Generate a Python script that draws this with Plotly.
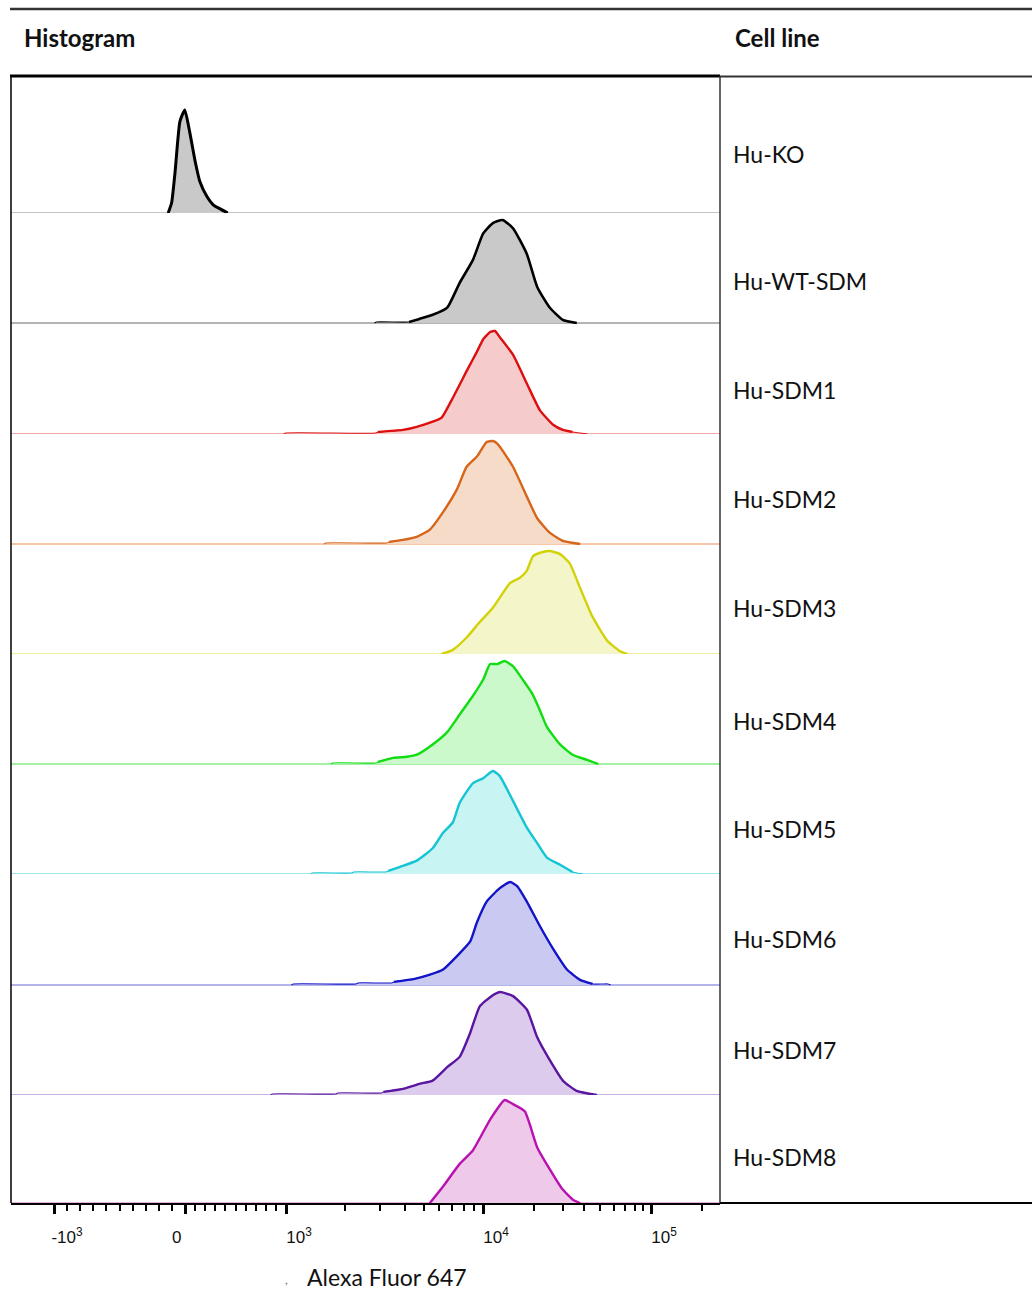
import numpy as np
import plotly.graph_objects as go

# ---------------------------------------------------------------------------
# Data: histograms binned on the 0-1024 biexponential display channel,
# counts normalised to mode (% of max)
# ---------------------------------------------------------------------------
cell_lines = ["Hu-KO", "Hu-WT-SDM", "Hu-SDM1", "Hu-SDM2", "Hu-SDM3",
              "Hu-SDM4", "Hu-SDM5", "Hu-SDM6", "Hu-SDM7", "Hu-SDM8"]

ko_ch = [227, 232, 237, 244, 251, 258, 266, 273, 283, 292, 302, 313]
ko_pct = [0, 10, 40, 89, 100, 79, 50, 30, 16, 8, 4, 0]

wt_ch = [525, 528, 575, 590, 609, 630, 648, 667, 682, 696, 710, 725, 745, 760, 778, 797, 817]
wt_pct = [0, 1, 1, 4, 8, 15, 39, 61, 87, 97, 100, 92, 67, 35, 15, 3, 0]

sdm1_ch = [394, 397, 527, 530, 566, 586, 609, 622, 638, 658, 673, 682, 692, 699, 706,
           725, 745, 764, 783, 797, 811, 833]
sdm1_pct = [0, 1, 1, 2, 4, 7, 12, 16, 35, 61, 80, 92, 99, 100, 94, 77, 49, 23, 9, 4, 2, 0]

sdm2_ch = [452, 455, 543, 546, 566, 586, 605, 624, 644, 658, 673, 687, 696, 703, 725,
           745, 760, 778, 797, 822]
sdm2_pct = [0, 1, 1, 2, 4, 7, 14, 31, 53, 75, 85, 99, 100, 97, 75, 46, 25, 11, 3, 0]

sdm3_ch = [622, 638, 658, 677, 696, 721, 735, 745, 754, 768, 778, 793, 807, 822, 840,
           861, 879, 890]
sdm3_pct = [0, 4, 16, 31, 45, 69, 74, 81, 95, 99, 100, 97, 88, 64, 36, 13, 3, 0]

sdm4_ch = [462, 465, 527, 530, 552, 572, 586, 609, 630, 648, 667, 682, 692, 702, 713,
           725, 739, 753, 764, 774, 793, 811, 832, 848]
sdm4_pct = [0, 1, 1, 2, 6, 7, 9, 19, 31, 48, 66, 82, 97, 97, 100, 95, 82, 68, 52, 36, 19,
            9, 4, 0]

sdm5_ch = [433, 435, 492, 495, 541, 545, 562, 586, 609, 624, 638, 648, 667, 682, 696,
           706, 725, 745, 760, 774, 793, 811, 826]
sdm5_pct = [0, 1, 1, 2, 2, 3, 7, 13, 25, 40, 50, 69, 88, 93, 100, 95, 71, 45, 30, 16, 9, 2, 0]

sdm6_ch = [405, 408, 498, 501, 550, 553, 583, 605, 624, 644, 663, 673, 687, 706, 721,
           731, 745, 764, 783, 803, 822, 840, 855, 862, 866]
sdm6_pct = [0, 1, 1, 2, 2, 3, 6, 10, 15, 28, 42, 61, 81, 94, 100, 96, 81, 57, 35, 15, 5,
            1, 1, 1, 0]

sdm7_ch = [375, 378, 469, 472, 535, 538, 566, 591, 609, 630, 648, 663, 677, 692, 706,
           725, 745, 760, 778, 797, 817, 846]
sdm7_pct = [0, 1, 1, 2, 2, 3, 6, 11, 14, 27, 37, 60, 86, 95, 100, 96, 83, 56, 34, 14, 4, 0]

sdm8_ch = [605, 624, 648, 667, 692, 713, 725, 742, 760, 778, 797, 812, 822]
sdm8_pct = [0, 16, 38, 51, 81, 100, 96, 89, 54, 33, 13, 3, 0]

hist_ch = [ko_ch, wt_ch, sdm1_ch, sdm2_ch, sdm3_ch, sdm4_ch, sdm5_ch, sdm6_ch, sdm7_ch, sdm8_ch]
hist_pct = [ko_pct, wt_pct, sdm1_pct, sdm2_pct, sdm3_pct, sdm4_pct, sdm5_pct, sdm6_pct,
            sdm7_pct, sdm8_pct]

# Axis tick values (fluorescence intensity)
major_ticks = [-1e3, 0, 1e3, 1e4, 1e5]
major_labels = ["-10<sup>3</sup>", "0" + "\u00a0" * 9,
                "10<sup>3</sup>", "10<sup>4</sup>", "10<sup>5</sup>"]
minor_ticks = ([-k * 100 for k in range(1, 10)] + [k * 100 for k in range(1, 10)]
               + [k * 1e3 for k in range(2, 10)] + [k * 1e4 for k in range(2, 10)] + [2e5])

# ---------------------------------------------------------------------------
# Styling
# ---------------------------------------------------------------------------
line_colors = ["#000000", "#000000", "#dc1010", "#d6661c", "#d2d20a", "#12dc12",
               "#16c4d4", "#1414c8", "#5a16a0", "#b812b0"]
fill_colors = ["#c9c9c9", "#c9c9c9", "#f5cbcb", "#f6dcc8", "#f4f5c8", "#ccf9cc",
               "#c9f4f4", "#c9c9f2", "#dccbec", "#efc9ea"]
base_colors = ["#c4c4c4", "#b4b4b4", "#f2a8a8", "#f4c8a8", "#eeee9c", "#a4f0a4",
               "#a0e8f0", "#b2b2ec", "#c8b0e0", "#e6b0e2"]
line_widths = [3, 2.6, 2.4, 2.4, 2.4, 2.4, 2.4, 2.4, 2.4, 2.4]

W, H = 1032, 1290
plot_left, plot_right = 11, 720
row_tops = [76, 213, 323, 434, 544, 654, 764, 874, 985, 1095]
row_bases = [213, 323, 434, 544, 654, 764, 874, 985, 1095, 1203]
label_y = [154, 281, 390, 499, 608, 721, 829, 939, 1050, 1157]
px_per_pct = 1.03
CH_MAX = 1024


def to_channel(v):
    """Biexponential display transform: linear around zero, log above 10^3."""
    lin_v = [-1e3, 0.0, 1e3]
    lin_c = [62.1, 251.3, 397.2]
    if v <= 1e3:
        return float(np.interp(v, lin_v, lin_c))
    dec = [3.0, 4.0, 5.0, 6.0]
    dec_c = [397.2, 681.7, 924.4, 1167.1]
    return float(np.interp(np.log10(v), dec, dec_c))


def fx(px):
    return px / W


def fy(py):
    return 1 - py / H


fig = go.Figure()

for i, name in enumerate(cell_lines):
    yname = "y" if i == 0 else f"y{i + 1}"
    ch, pct = hist_ch[i], hist_pct[i]
    # zero line across the whole channel range
    fig.add_trace(go.Scatter(
        x=[0, CH_MAX], y=[0, 0], mode="lines", xaxis="x", yaxis=yname,
        line=dict(color=base_colors[i], width=2), hoverinfo="skip", showlegend=False))
    # filled histogram with a fine outline (covers the sparse tails)
    fig.add_trace(go.Scatter(
        x=ch, y=pct, mode="lines", xaxis="x", yaxis=yname,
        fill="tozeroy", fillcolor=fill_colors[i],
        line=dict(color=line_colors[i], width=1.1, shape="spline", smoothing=0.5),
        name=name, showlegend=False))
    # heavier outline over the populated part of the distribution
    first = max(0, next(k for k, p in enumerate(pct) if p >= 4) - 1)
    last = min(len(pct) - 1, max(k for k, p in enumerate(pct) if p >= 3) + 1)
    fig.add_trace(go.Scatter(
        x=ch[first:last + 1], y=pct[first:last + 1], mode="lines", xaxis="x", yaxis=yname,
        line=dict(color=line_colors[i], width=line_widths[i], shape="spline", smoothing=0.5),
        hoverinfo="skip", showlegend=False))

layout_axes = {}
for i in range(len(cell_lines)):
    key = "yaxis" if i == 0 else f"yaxis{i + 1}"
    pad = 1.5 if i < len(cell_lines) - 1 else 0.0
    top_px, base_px = row_tops[i], row_bases[i]
    layout_axes[key] = dict(
        domain=[fy(base_px + pad), fy(top_px)],
        range=[-pad / px_per_pct, (base_px - top_px) / px_per_pct],
        visible=False, anchor="x", fixedrange=True)

fig.update_layout(**layout_axes)

fig.update_layout(
    width=W, height=H,
    margin=dict(l=0, r=0, t=0, b=0),
    paper_bgcolor="white", plot_bgcolor="white",
    font=dict(family="Lato, 'Open Sans', sans-serif", color="#111111"),
    xaxis=dict(
        domain=[fx(plot_left), fx(plot_right)],
        range=[0, CH_MAX], anchor="y10",
        showgrid=False, zeroline=False,
        showline=True, linecolor="#000000", linewidth=2,
        ticks="outside", ticklen=9, tickwidth=3, tickcolor="#000000",
        tickvals=[to_channel(v) for v in major_ticks],
        ticktext=major_labels,
        ticklabelshift=13, ticklabelstandoff=9,
        tickfont=dict(family="'Liberation Sans Narrow', 'Liberation Sans', Arial",
                      size=17, color="#111111"),
        minor=dict(tickvals=[to_channel(v) for v in minor_ticks], ticks="outside",
                   ticklen=6, tickwidth=2, tickcolor="#000000", showgrid=False),
        fixedrange=True),
)

# Table rules and plot frame
shapes = [
    dict(type="line", xref="paper", yref="paper", x0=fx(10), x1=fx(W), y0=fy(9), y1=fy(9),
         line=dict(color="#333333", width=2.5)),
    dict(type="line", xref="paper", yref="paper", x0=fx(10), x1=fx(plot_right),
         y0=fy(76), y1=fy(76), line=dict(color="#000000", width=3)),
    dict(type="line", xref="paper", yref="paper", x0=fx(plot_right), x1=fx(W),
         y0=fy(76.5), y1=fy(76.5), line=dict(color="#333333", width=2)),
    dict(type="line", xref="paper", yref="paper", x0=fx(plot_left), x1=fx(plot_left),
         y0=fy(76), y1=fy(1203), line=dict(color="#000000", width=1.5)),
    dict(type="line", xref="paper", yref="paper", x0=fx(plot_right), x1=fx(plot_right),
         y0=fy(76), y1=fy(1203), line=dict(color="#333333", width=1.5)),
    dict(type="line", xref="paper", yref="paper", x0=fx(plot_right), x1=fx(W),
         y0=fy(1203), y1=fy(1203), line=dict(color="#000000", width=2)),
]
fig.update_layout(shapes=shapes)

annotations = [
    dict(text="<b>Histogram</b>", x=fx(22), y=fy(37), xref="paper", yref="paper",
         xanchor="left", yanchor="middle", showarrow=False,
         font=dict(size=24, color="#111111")),
    dict(text="<b>Cell line</b>", x=fx(733), y=fy(37), xref="paper", yref="paper",
         xanchor="left", yanchor="middle", showarrow=False,
         font=dict(size=24, color="#111111")),
    dict(text="Alexa Fluor 647", x=fx(386.5), y=fy(1277), xref="paper", yref="paper",
         xanchor="center", yanchor="middle", showarrow=False, height=24, valign="middle",
         font=dict(size=23, color="#111111")),
    dict(text=",", x=fx(286), y=fy(1279), xref="paper", yref="paper",
         xanchor="center", yanchor="middle", showarrow=False,
         font=dict(size=12, color="#666666")),
]
for name, yc in zip(cell_lines, label_y):
    annotations.append(dict(text=name, x=fx(731), y=fy(yc), xref="paper", yref="paper",
                            xanchor="left", yanchor="middle", showarrow=False,
                            font=dict(size=23, color="#111111")))
fig.update_layout(annotations=annotations)

fig.write_html("out.html")
